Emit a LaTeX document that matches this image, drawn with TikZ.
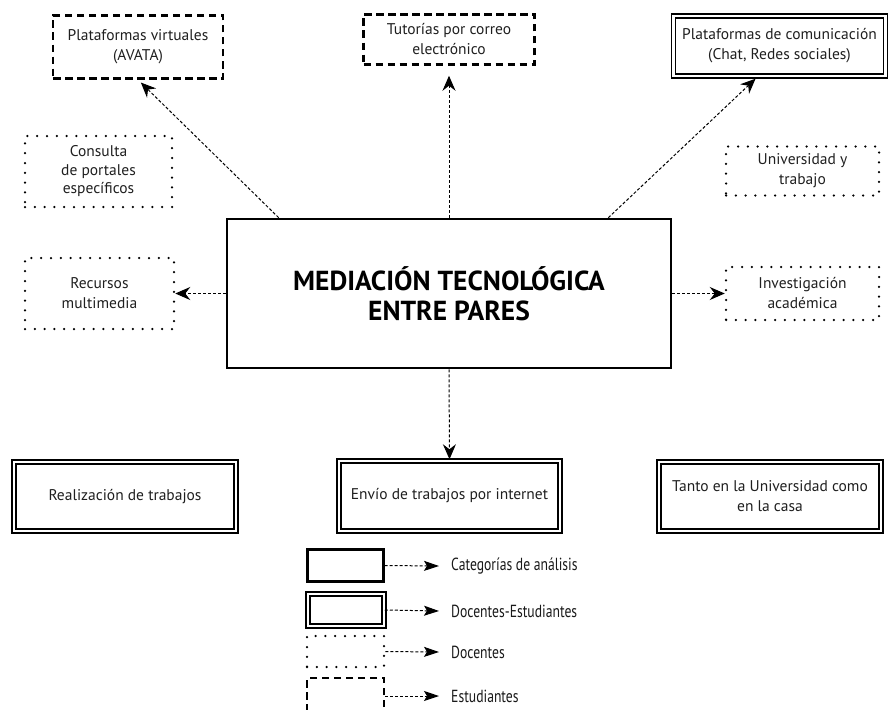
\documentclass[tikz,border=0pt]{standalone}
\usepackage{fontspec}
\setmainfont{PT Sans}
\newfontfamily\condfont[FakeStretch=0.78]{PT Sans}
\usetikzlibrary{arrows.meta,calc}
\tikzset{
  box/.style={inner sep=0pt, align=center, font=\fontsize{15.5}{20}\selectfont, text=black!88},
  catbox/.style={box, draw, line width=2.6pt},
  dblbox/.style={box, draw, double, line width=1.5pt, double distance=2.2pt},
  dotbox/.style={box, draw, line width=2.5pt, line cap=round, dash pattern=on 0pt off 9.8pt},
  dashbox/.style={box, draw, line width=2.5pt, dash pattern=on 7.5pt off 4.5pt},
  conn/.style={line width=1pt, dash pattern=on 3pt off 2pt, -{Stealth[length=15pt,width=13pt,inset=5pt]}},
  legconn/.style={line width=1pt, dash pattern=on 3pt off 2pt, -{Stealth[length=15pt,width=10pt,inset=3pt]}},
  legtext/.style={anchor=west, inner sep=0pt, font=\condfont\fontsize{17.5}{20}\selectfont, text=black!90}
}
\begin{document}
\begin{tikzpicture}[x=1pt,y=-1pt]
\useasboundingbox (0,0) rectangle (890,709);
\clip (0,0) rectangle (890,709);
% main nodes
\node[catbox, minimum width=444pt, minimum height=149pt, font=\bfseries\fontsize{27.5}{30}\selectfont, text=black] (c) at (449,293.5) {MEDIACIÓN TECNOLÓGICA\\ENTRE PARES};
\node[dashbox, minimum width=170pt, minimum height=63pt] (pv) at (138,47) {Plataformas virtuales\\(AVATA)};
\node[dashbox, minimum width=171pt, minimum height=50pt] (tut) at (449,39.5) {Tutorías por correo\\electrónico};
\node[dblbox, minimum width=212pt, minimum height=60pt] (pc) at (779.5,46) {Plataformas de comunicación\\(Chat, Redes sociales)};
\node[dotbox, minimum width=147pt, minimum height=71pt, font=\fontsize{15.5}{18.5}\selectfont] (con) at (98.5,171.5) {Consulta\\de portales\\específicos};
\node[dotbox, minimum width=153pt, minimum height=49pt] (uni) at (802.5,171) {Universidad y\\trabajo};
\node[dotbox, minimum width=149pt, minimum height=71pt] (rec) at (99.5,293.5) {Recursos\\multimedia};
\node[dotbox, minimum width=153pt, minimum height=53pt] (inv) at (802.5,293.5) {Investigación\\académica};
\node[dblbox, minimum width=222pt, minimum height=69pt] (real) at (125,496.5) {Realización de trabajos};
\node[dblbox, minimum width=221pt, minimum height=70pt] (env) at (449.5,496) {Envío de trabajos por internet};
\node[dblbox, minimum width=222pt, minimum height=69pt] (tanto) at (770,496.5) {Tanto en la Universidad como\\en la casa};
% connectors
\coordinate (s1) at ($(c.north west)+(53,0)$);
\coordinate (s2) at ($(c.north east)+(-64,0)$);
\coordinate (t2) at ($(pc.south)+(-24,2)$);
\draw[conn, shorten >=4pt] (s1) -- (pv.south);
\draw[conn, shorten >=10pt] (c.north) -- (tut.south);
\draw[conn] (s2) -- (t2);
\draw[conn] (c.west) -- (rec.east);
\draw[conn] (c.east) -- (inv.west);
\draw[conn, shorten >=1pt] (c.south) -- (env.north);
% legend
\node[box, draw, line width=2.2pt, minimum width=76pt, minimum height=32pt] (l1) at (345.5,565.5) {};
\node[dblbox, minimum width=76pt, minimum height=32pt] (l2) at (346,610) {};
\node[dotbox, minimum width=77pt, minimum height=31pt] (l3) at (345.5,651.5) {};
\node[dashbox, minimum width=77pt, minimum height=36pt] (l4) at (345.5,696) {};
\node[legtext] (t1) at (451,566) {Categorías de análisis};
\node[legtext] (tt2) at (451,611) {Docentes-Estudiantes};
\node[legtext] (t3) at (451,652) {Docentes};
\node[legtext] (t4) at (451,696) {Estudiantes};
\coordinate (a1) at (439,566);
\coordinate (a2) at (439,611);
\coordinate (a3) at (439,652);
\coordinate (a4) at (439,696);
\draw[legconn] (l1.east) -- (a1);
\draw[legconn] (l2.east) -- (a2);
\draw[legconn] (l3.east) -- (a3);
\draw[legconn] (l4.east) -- (a4);
\end{tikzpicture}
\end{document}
